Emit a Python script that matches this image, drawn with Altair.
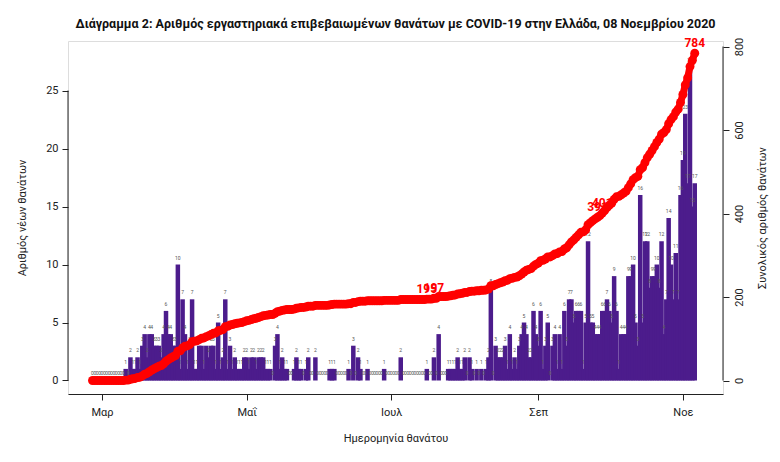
import json
import altair as alt
import pandas as pd

# ---- data (daily lab-confirmed COVID-19 deaths in Greece, by date of death) ----
START_DATE = "2020-02-26"
FEB = [0, 0, 0, 0]
MAR = [0, 0, 0, 0, 0, 0, 0, 0, 0, 0, 1, 0, 2, 1, 1, 2, 1, 3, 4, 2,
       4, 4, 3, 3, 3, 2, 4, 6, 4, 4, 3]
APR = [3, 10, 1, 7, 4, 1, 3, 7, 1, 1, 3, 3, 1, 3, 2, 3, 3, 1, 5, 1,
       2, 7, 1, 3, 1, 2, 1, 1, 1, 2]
MAY = [2, 1, 2, 2, 1, 2, 2, 2, 1, 1, 1, 0, 3, 4, 1, 2, 1, 1, 0, 0,
       1, 2, 1, 1, 0, 1, 2, 0, 0, 2, 0]
JUN = [0, 0, 0, 0, 1, 1, 1, 0, 0, 0, 0, 0, 1, 0, 3, 0, 2, 1, 0, 0,
       1, 0, 0, 0, 0, 0, 0, 1, 0, 0]
JUL = [0, 0, 0, 0, 2, 0, 0, 0, 0, 0, 0, 0, 0, 0, 0, 1, 0, 0, 2, 0,
       4, 0, 0, 0, 1, 1, 1, 1, 2, 1, 1]
AUG = [2, 0, 2, 1, 0, 1, 0, 1, 0, 1, 2, 8, 0, 3, 2, 2, 2, 3, 1, 4,
       1, 2, 1, 3, 4, 5, 4, 2, 2, 6, 4]
SEP = [3, 6, 1, 3, 5, 0, 3, 4, 1, 4, 1, 6, 3, 7, 7, 5, 6, 6, 6, 1,
       5, 12, 5, 5, 4, 4, 4, 6, 6, 7]
OCT = [6, 5, 9, 6, 1, 4, 4, 4, 9, 9, 10, 5, 3, 16, 5, 12, 12, 8, 9, 9,
       10, 8, 12, 4, 7, 14, 10, 7, 11, 7, 16]
NOV = [19, 23, 17, 27, 15, 17]
DAILY = FEB + MAR + APR + MAY + JUN + JUL + AUG + SEP + OCT + NOV

MONTH_NAMES = ["Ιαν", "Φεβ", "Μαρ", "Απρ", "Μαΐ", "Ιουν", "Ιουλ", "Αυγ", "Σεπ", "Οκτ", "Νοε", "Δεκ"]
TICK_MONTHS = [3, 5, 7, 9, 11]
LEFT_TICKS = [0, 5, 10, 15, 20, 25]
RIGHT_TICKS = [0, 200, 400, 600, 800]
RED_LABEL_DATES = ["2020-07-16", "2020-07-19", "2020-09-26", "2020-09-28", "2020-11-06"]

TITLE = "Διάγραμμα 2: Αριθμός εργαστηριακά επιβεβαιωμένων θανάτων με COVID-19 στην Ελλάδα, 08 Νοεμβρίου 2020"

PURPLE = "#4C1C8C"
RED = "#FF0000"
AX = "#222222"
FONT = "Roboto"
W, H = 655, 353

dates = pd.date_range(START_DATE, periods=len(DAILY), freq="D").strftime("%Y-%m-%d")
df = pd.DataFrame({"date": dates, "day": dates, "daily": DAILY})

month_expr = json.dumps(MONTH_NAMES, ensure_ascii=False) + "[utcmonth(datum.value)]"

x_scale = alt.Scale(
    type="utc",
    domain=[alt.DateTime(year=2020, month=2, date=15, hours=16, utc=True),
            alt.DateTime(year=2020, month=11, date=17, hours=22, utc=True)],
    nice=False,
)
X = alt.X(
    "date:T",
    scale=x_scale,
    axis=alt.Axis(
        values=[alt.DateTime(year=2020, month=m, date=1, utc=True) for m in TICK_MONTHS],
        labelExpr=month_expr, grid=False, domainColor=AX, tickColor=AX, tickSize=6,
        labelFont=FONT, labelFontSize=11, labelColor="#222", labelPadding=6,
        title="Ημερομηνία θανάτου", titleFont=FONT, titleFontSize=11,
        titleFontWeight="normal", titleColor="#222", titlePadding=15,
    ),
)

left_scale = alt.Scale(domain=[-1.164, 29.27], nice=False, zero=False)
right_scale = alt.Scale(domain=[-32.3, 813.2], nice=False, zero=False)

base = alt.Chart(df)

bars = base.mark_rule(strokeWidth=4.5, color=PURPLE).encode(
    x=X,
    y=alt.Y("daily:Q", scale=left_scale, axis=alt.Axis(
        values=LEFT_TICKS, grid=False, domain=False, tickColor=AX, tickSize=6,
        labelFont=FONT, labelFontSize=11, labelColor="#222", labelPadding=4,
        title="Αριθμός νέων θανάτων", titleFont=FONT, titleFontSize=11,
        titleFontWeight="normal", titleColor="#222", titlePadding=18)),
    y2=alt.datum(0),
)
bar_labels = base.mark_text(fontSize=5, color="#555", baseline="bottom", dy=-4, font=FONT).encode(
    x=X, y=alt.Y("daily:Q", scale=left_scale), text="daily:Q"
)
left_line = alt.Chart(pd.DataFrame({"lo": [LEFT_TICKS[0]], "hi": [LEFT_TICKS[-1]]})).mark_rule(
    color=AX, strokeWidth=1).encode(
    x=alt.value(0), y=alt.Y("lo:Q", scale=left_scale), y2="hi:Q")

left_layer = alt.layer(bars, bar_labels, left_line)

cum = base.transform_window(cum="sum(daily)", sort=[alt.SortField("date")], frame=[None, 0])
Yr = alt.Y("cum:Q", scale=right_scale, axis=alt.Axis(
    orient="right", values=RIGHT_TICKS, grid=False, domain=False, tickColor=AX, tickSize=6,
    labelFont=FONT, labelFontSize=11, labelColor="#222", labelPadding=4,
    labelAngle=270, labelAlign="center", labelBaseline="top",
    title="Συνολικός αριθμός θανάτων", titleFont=FONT, titleFontSize=11,
    titleFontWeight="normal", titleColor="#222", titlePadding=12,
    titleAngle=270, titleBaseline="top"))
cum_line = cum.mark_line(color=RED, strokeWidth=7).encode(x=X, y=Yr)
cum_pts = cum.mark_circle(color=RED, size=80, opacity=1).encode(x=X, y=Yr)
red_labels = cum.transform_filter(
    alt.FieldOneOfPredicate(field="day", oneOf=RED_LABEL_DATES)
).mark_text(color=RED, fontWeight="bold", fontSize=12, baseline="bottom", dy=-3, font=FONT).encode(
    x=X, y=Yr, text="cum:Q")
right_line = alt.Chart(pd.DataFrame({"lo": [RIGHT_TICKS[0]], "hi": [RIGHT_TICKS[-1]]})).mark_rule(
    color=AX, strokeWidth=1).encode(
    x=alt.value(W), y=alt.Y("lo:Q", scale=right_scale), y2="hi:Q")

right_layer = alt.layer(cum_line, cum_pts, red_labels, right_line)

chart = alt.layer(left_layer, right_layer).resolve_scale(y="independent").properties(
    width=W, height=H,
    title=alt.TitleParams(TITLE, font=FONT, fontSize=12.5, fontWeight="bold", color="#111",
                          anchor="middle", offset=7),
    padding={"left": 68, "top": 41, "right": 57, "bottom": 68},
    autosize=alt.AutoSizeParams(type="none"),
).configure_view(stroke=None).configure(background="white")

chart.save("out.html", embed_options={"renderer": "svg", "actions": False})
